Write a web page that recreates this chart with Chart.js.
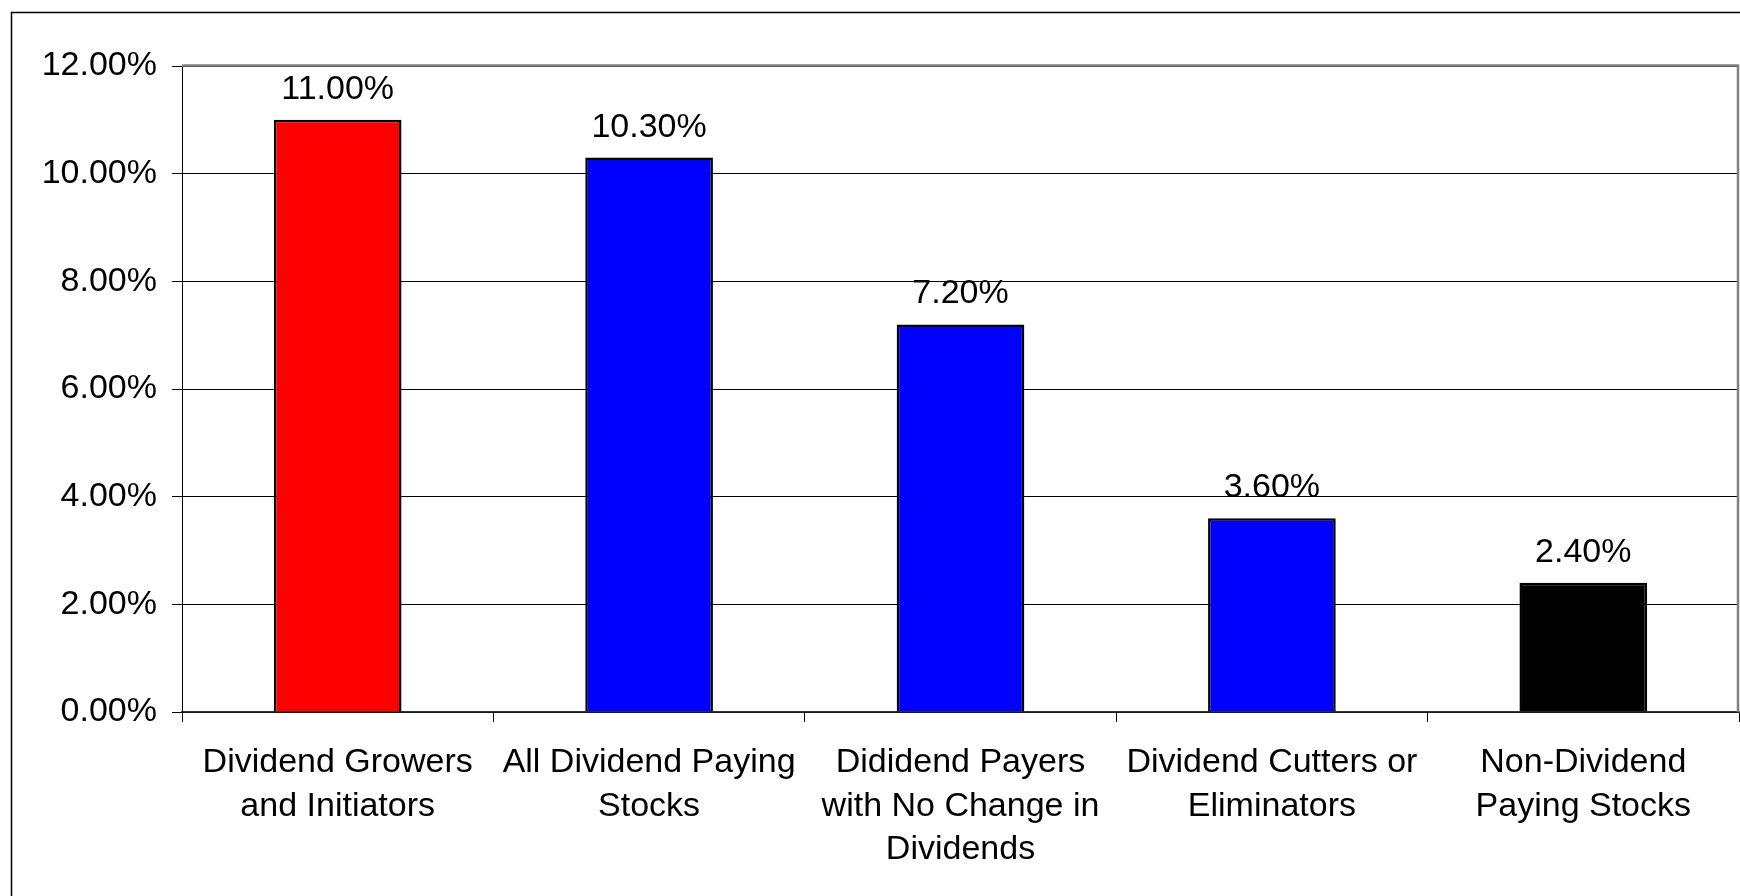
<!DOCTYPE html>
<html>
<head>
<meta charset="utf-8">
<script src="https://cdn.jsdelivr.net/npm/chart.js@4/dist/chart.umd.min.js"></script>
<style>
  html, body { margin: 0; padding: 0; background: #fff; }
  #wrap { position: relative; width: 1740px; height: 896px; overflow: hidden; }
  canvas { display: block; }
</style>
</head>
<body>
<div id="wrap"><canvas id="c" width="1740" height="896"></canvas></div>
<script>
const categories = [
  ["Dividend Growers", "and Initiators"],
  ["All Dividend Paying", "Stocks"],
  ["Dididend Payers", "with No Change in", "Dividends"],
  ["Dividend Cutters or", "Eliminators"],
  ["Non-Dividend", "Paying Stocks"]
];
const returns = [11.00, 10.30, 7.20, 3.60, 2.40];
const barColors = ["#FF0000", "#0000FF", "#0000FF", "#0000FF", "#000000"];
const yTicks = [0, 2, 4, 6, 8, 10, 12];

const FONT = "'Liberation Sans', Arial, sans-serif";
const fmt = v => v.toFixed(2) + "%";

const framePlugin = {
  id: "frame",
  beforeDraw(chart) {
    const ctx = chart.ctx;
    ctx.save();
    ctx.fillStyle = "#fff";
    ctx.fillRect(0, 0, chart.width, chart.height);
    ctx.strokeStyle = "#000";
    ctx.lineWidth = 1.5;
    ctx.beginPath();
    ctx.moveTo(11.5, chart.height + 5);
    ctx.lineTo(11.5, 12.5);
    ctx.lineTo(chart.width + 5, 12.5);
    ctx.stroke();
    ctx.restore();
  },
  afterDatasetsDraw(chart) {
    const ctx = chart.ctx;
    const a = chart.chartArea;
    ctx.save();
    ctx.strokeStyle = "#808080";
    ctx.lineWidth = 2.5;
    ctx.beginPath();
    ctx.moveTo(a.left, a.top - 0.5);
    ctx.lineTo(a.right - 1, a.top - 0.5);
    ctx.lineTo(a.right - 1, a.bottom);
    ctx.stroke();
    const meta = chart.getDatasetMeta(0);
    ctx.fillStyle = "#000";
    ctx.font = "34px " + FONT;
    ctx.textAlign = "center";
    ctx.textBaseline = "alphabetic";
    meta.data.forEach((bar, i) => {
      ctx.fillText(fmt(returns[i]), bar.x, bar.y - 21);
    });
    ctx.restore();
  }
};

new Chart(document.getElementById("c"), {
  type: "bar",
  data: {
    labels: categories,
    datasets: [{
      data: returns,
      backgroundColor: barColors,
      borderColor: "#000",
      borderWidth: 2.5,
      barPercentage: 0.41,
      categoryPercentage: 1.0
    }]
  },
  options: {
    responsive: false,
    animation: false,
    devicePixelRatio: 1,
    layout: { padding: { top: 66, right: 1, left: 0, bottom: 0 } },
    plugins: { legend: { display: false }, tooltip: { enabled: false } },
    scales: {
      x: {
        type: "category",
        offset: true,
        grid: {
          offset: true,
          drawOnChartArea: false,
          drawTicks: true,
          tickLength: 10,
          color: "#000",
          lineWidth: 1
        },
        border: { display: true, color: "#333", width: 1.5 },
        ticks: {
          color: "#000",
          font: { family: FONT, size: 34, lineHeight: 1.28 },
          padding: 19,
          maxRotation: 0,
          minRotation: 0,
          autoSkip: false
        },
        afterFit(scale) { scale.height = 896 - 712; }
      },
      y: {
        min: 0,
        max: 12,
        afterBuildTicks(scale) { scale.ticks = yTicks.map(v => ({ value: v })); },
        grid: {
          color: "#000",
          lineWidth: 1,
          drawTicks: true,
          tickLength: 10
        },
        border: { display: true, color: "#000", width: 1 },
        ticks: {
          color: "#000",
          font: { family: FONT, size: 34 },
          padding: 15,
          callback: v => fmt(v)
        },
        afterFit(scale) { scale.width = 182; }
      }
    }
  },
  plugins: [framePlugin]
});
</script>
</body>
</html>
